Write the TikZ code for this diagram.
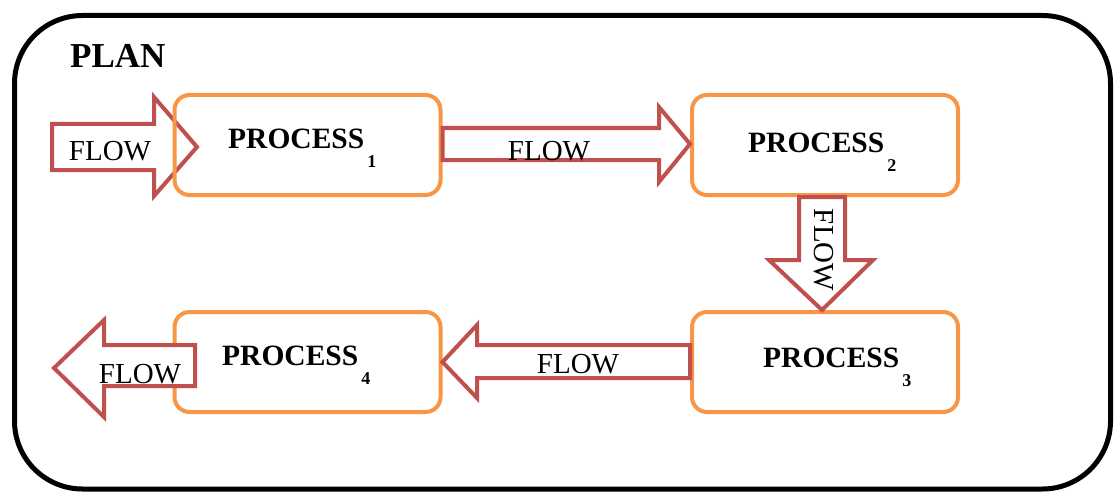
\documentclass[tikz,border=0pt]{standalone}
\usepackage{fontspec}
\setmainfont{Liberation Serif}
\definecolor{boxorange}{HTML}{F79646}
\definecolor{arrowred}{HTML}{C0504D}
\tikzset{
  procbox/.style={draw=boxorange, line width=4pt, rounded corners=15pt, minimum width=266pt, minimum height=100pt, inner sep=0pt},
  blockarrow/.style={draw=arrowred, line width=4pt, fill=white, line join=miter},
  flowtext/.style={font=\fontsize{29}{30}\selectfont, inner sep=0pt},
  proctext/.style={font=\fontsize{29.5}{30}\selectfont\bfseries, inner sep=0pt, anchor=base west},
}
\newcommand{\procsub}[1]{\hspace{3pt}\raisebox{-19pt}{\fontsize{18}{18}\selectfont\bfseries #1}}
\begin{document}
\begin{tikzpicture}[x=1pt,y=-1pt]
\useasboundingbox (0,0) rectangle (1118,492);
% outer frame
\draw[line width=5pt, rounded corners=68pt] (14.5,15.5) rectangle (1110.5,489);
\node[font=\fontsize{35}{36}\selectfont\bfseries, anchor=base west, inner sep=0pt] (plan) at (70,68) {PLAN};

% input arrow (behind P1)
\draw[blockarrow] (52,124) -- (154,124) -- (154,97) -- (197,147) -- (154,196) -- (154,170) -- (52,170) -- cycle;

% boxes
\node[procbox] (p1) at (307.5,145) {};
\node[procbox] (p2) at (825,145) {};
\node[procbox] (p3) at (825,362) {};
\node[procbox] (p4) at (307.5,362) {};

% connectors
\draw[blockarrow] (p1.east |- 0,128) -- (659,128) -- (659,107) -- (p2.west |- 0,144) -- (659,182) -- (659,160) -- (p1.east |- 0,160) -- cycle;
\draw[blockarrow] (799,0 |- p2.south) -- (799,260) -- (769,260) -- (822,0 |- p3.north) -- (873,260) -- (845,260) -- (845,0 |- p2.south) -- cycle;
\draw[blockarrow] (p3.west |- 0,345) -- (477,345) -- (477,325) -- (p4.east |- 0,362) -- (477,398) -- (477,378) -- (p3.west |- 0,378) -- cycle;
\draw[blockarrow] (195,345) -- (104,345) -- (104,320) -- (54,368) -- (104,417) -- (104,386) -- (195,386) -- cycle;

% texts
\node[proctext] (t1) at (228,148) {PROCESS\procsub{1}};
\node[proctext] (t2) at (748,152) {PROCESS\procsub{2}};
\node[proctext] (t3) at (763,367) {PROCESS\procsub{3}};
\node[proctext] (t4) at (222,365) {PROCESS\procsub{4}};

\node[flowtext, anchor=base] (f1) at (110,160) {FLOW};
\node[flowtext, anchor=base] (f2) at (549,160) {FLOW};
\node[flowtext, rotate=-90] (f3) at (824,250) {FLOW};
\node[flowtext, anchor=base] (f4) at (578,373) {FLOW};
\node[flowtext, anchor=base] (f5) at (140,383) {FLOW};
\end{tikzpicture}
\end{document}
